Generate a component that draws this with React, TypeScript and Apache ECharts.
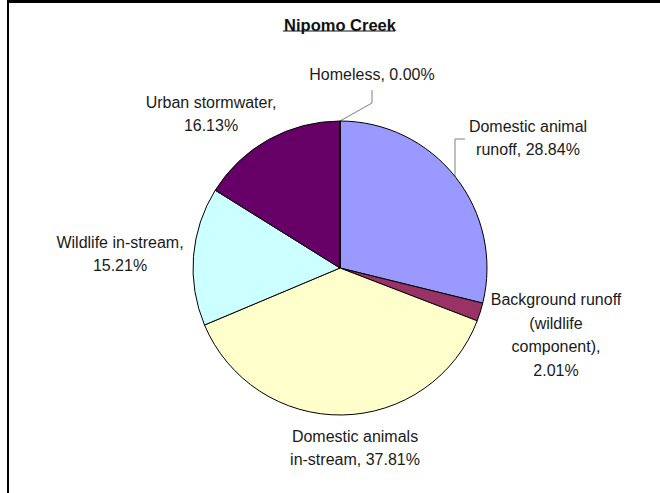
import React, { useEffect, useRef } from "react";
import * as echarts from "echarts";

const title = "Nipomo Creek";
const categories = [
  "Domestic animal runoff",
  "Background runoff (wildlife component)",
  "Domestic animals in-stream",
  "Wildlife in-stream",
  "Urban stormwater",
  "Homeless",
];
const values = [28.84, 2.01, 37.81, 15.21, 16.13, 0.0];
const labelLines = [
  ["Domestic animal", "runoff, {v}"],
  ["Background runoff", "(wildlife", "component),", "{v}"],
  ["Domestic animals", "in-stream, {v}"],
  ["Wildlife in-stream,", "{v}"],
  ["Urban stormwater,", "{v}"],
  ["Homeless, {v}"],
];
const colors = ["#9999FF", "#993366", "#FFFFCC", "#CCFFFF", "#660066", "#FF8080"];

// label positions (layout)
const labelPos = [
  [528, 138],
  [556, 335],
  [355, 448],
  [120, 254],
  [211, 114],
  [372, 74],
];
const leaderLines: Record<number, number[][]> = {
  0: [[455, 177], [455, 139], [465, 139]],
  5: [[340, 121], [372, 103], [372, 90]],
};

export default function App() {
  const ref = useRef<HTMLDivElement>(null);
  useEffect(() => {
    if (!ref.current) return;
    const chart = echarts.init(ref.current, undefined, { renderer: "svg" });
    const data = categories.map((name, i) => ({
      name,
      value: values[i],
      itemStyle: { color: colors[i] },
      labelLine: leaderLines[i]
        ? { show: true, lineStyle: { color: "#808080", width: 1 } }
        : { show: false },
    }));
    chart.setOption({
      animation: false,
      backgroundColor: "#ffffff",
      title: {
        text: title,
        left: 335,
        top: 11,
        textAlign: "center",
        textStyle: {
          fontFamily: "Liberation Sans, Arial, sans-serif",
          fontSize: 16.5,
          fontWeight: "bold",
          color: "#111",
        },
      },
      graphic: [
        { type: "rect", shape: { x: 7, y: 0, width: 653, height: 3 }, style: { fill: "#000" } },
        { type: "rect", shape: { x: 7, y: 0, width: 2, height: 493 }, style: { fill: "#000" } },
        {
          type: "line",
          shape: { x1: 283, y1: 31, x2: 395, y2: 31 },
          style: { stroke: "#111", lineWidth: 1.2 },
        },
      ],
      series: [
        {
          type: "pie",
          center: [340, 268],
          radius: 147,
          startAngle: 90,
          clockwise: true,
          avoidLabelOverlap: false,
          itemStyle: { borderColor: "#000", borderWidth: 1 },
          emphasis: { disabled: true },
          label: {
            show: true,
            position: "outside",
            fontFamily: "Liberation Sans, Arial, sans-serif",
            fontSize: 16,
            lineHeight: 23.5,
            color: "#1a1a1a",
            align: "center",
            formatter: (p: any) =>
              labelLines[p.dataIndex]
                .map((l) => l.replace("{v}", values[p.dataIndex].toFixed(2) + "%"))
                .join("\n"),
          },
          labelLine: { show: false },
          labelLayout: (p: any) => {
            const i = p.dataIndex;
            const res: any = {
              x: labelPos[i][0],
              y: labelPos[i][1],
              align: "center",
              verticalAlign: "middle",
            };
            if (leaderLines[i]) res.labelLinePoints = leaderLines[i];
            return res;
          },
          data,
        },
      ],
    });
    return () => chart.dispose();
  }, []);
  return (
    <div
      ref={ref}
      style={{ position: "fixed", left: 0, top: 0, width: 660, height: 493 }}
    />
  );
}
